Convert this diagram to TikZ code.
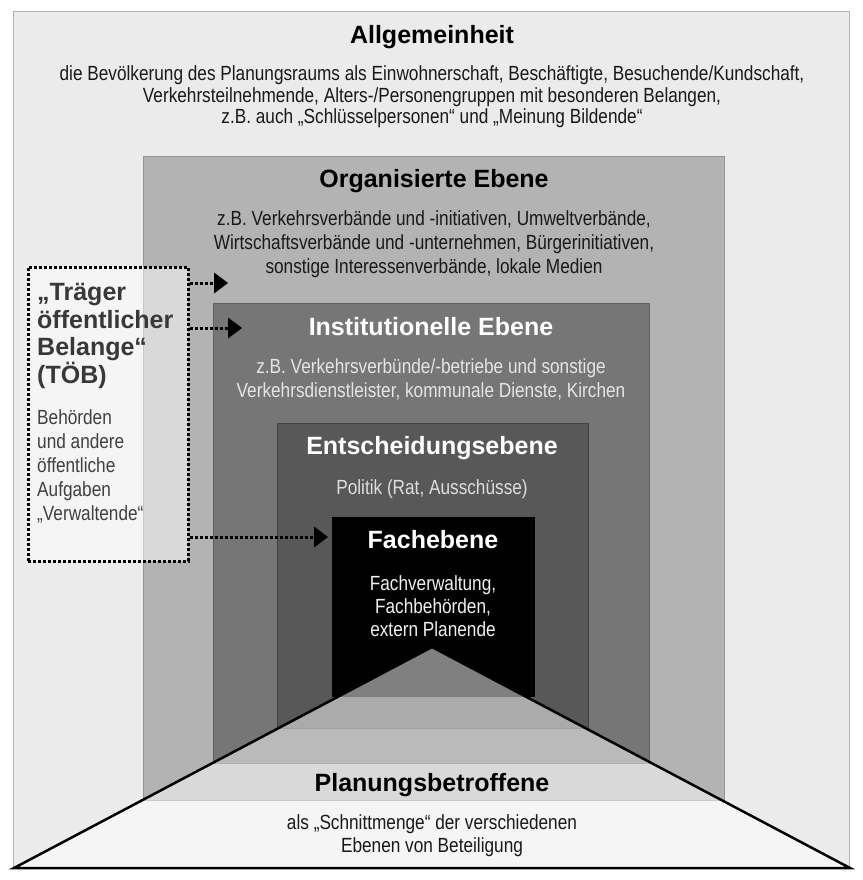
\documentclass[tikz,border=0pt]{standalone}
\usepackage{fontspec}
\setmainfont{Liberation Sans}
\newfontfamily\bodyfont{Liberation Sans}[FakeStretch=0.84]
\usetikzlibrary{positioning, arrows.meta}

\definecolor{allgcol}{HTML}{EBEBEB}
\definecolor{orgcol}{HTML}{B3B3B3}
\definecolor{instcol}{HTML}{767676}
\definecolor{entscol}{HTML}{585858}
\definecolor{toebcol}{HTML}{383838}

\tikzstyle{Head} = [font=\fontsize{25}{27.5}\selectfont\bfseries, inner sep=0pt]
\tikzstyle{Body} = [font=\bodyfont\fontsize{20.5}{24}\selectfont, align=center, inner sep=0pt]
\tikzstyle{TOEBbox} = [draw, line width=3pt, dash pattern=on 3pt off 2pt,
fill=white, fill opacity=0.5, minimum width=160pt, minimum height=294pt]
\tikzstyle{DotArrow} = [line width=3pt, dash pattern=on 3pt off 2pt,
-{Triangle[length=14pt, width=21pt, line width=0pt]}]

\begin{document}
\begin{tikzpicture}[x=1pt, y=-1pt]
    \useasboundingbox (0,0) rectangle (862,880);

    % Ebenen
    \draw[draw=black!30, fill=allgcol] (13,11) rectangle (849,868);
    \draw[draw=black!42, fill=orgcol] (143,156) rectangle (724,800);
    \draw[draw=black!62, fill=instcol] (213,303) rectangle (649,763);
    \draw[draw=black!75, fill=entscol] (277,423) rectangle (588,728);
    \fill[black] (332,517) rectangle (535,697);

    % Schnittmenge
    \draw[line width=2.5pt, fill=white, fill opacity=0.5]
        (432,647) -- (850,868) -- (14,868) -- cycle;

    % TOEB
    \node[TOEBbox] (toeb) at (108,414) {};

    \node[Head] (allg) at (432,37) {Allgemeinheit};
    \node[Body, text=black!90] (allgtxt) at (432,97) [font=\bodyfont\fontsize{20.5}{21.5}\selectfont]
        {die Bevölkerung des Planungsraums als Einwohnerschaft, Beschäftigte, Besuchende/Kundschaft,\\
         Verkehrsteilnehmende, Alters-/Personengruppen mit besonderen Belangen,\\
         z.B. auch „Schlüsselpersonen“ und „Meinung Bildende“};

    \node[Head] (org) at (434,181) {Organisierte Ebene};
    \node[Body, text=black!90] (orgtxt) at (434,244)
        {z.B. Verkehrsverbände und -initiativen, Umweltverbände,\\
         Wirtschaftsverbände und -unternehmen, Bürgerinitiativen,\\
         sonstige Interessenverbände, lokale Medien};

    \node[Head, text=white] (inst) at (431,327) {Institutionelle Ebene};
    \node[Body, text=black!10] (insttxt) at (431,379)
        {z.B. Verkehrsverbünde/-betriebe und sonstige\\
         Verkehrsdienstleister, kommunale Dienste, Kirchen};

    \node[Head, text=white] (ents) at (432,448) {Entscheidungsebene};
    \node[Body, text=black!13] (entstxt) at (432,489) {Politik (Rat, Ausschüsse)};

    \node[Head, text=white] (fach) at (433,540) {Fachebene};
    \node[Body, text=black!6, font=\bodyfont\fontsize{20.5}{23}\selectfont] (fachtxt) at (433,606)
        {Fachverwaltung,\\ Fachbehörden,\\ extern Planende};

    \node[Head] (betr) at (432,785) {Planungsbetroffene};
    \node[Body, text=black!90, font=\bodyfont\fontsize{20.5}{23}\selectfont] (betrtxt) at (432,836)
        {als „Schnittmenge“ der verschiedenen\\ Ebenen von Beteiligung};

    \node[Head, text=toebcol, align=left, anchor=north west] (toebhead) at (37,283)
        {„Träger\\ öffentlicher\\ Belange“\\ (TÖB)};
    \node[Body, text=black!75, align=left, below=21pt of toebhead.south west, anchor=north west] (toebtxt)
        {Behörden\\ und andere\\ öffentliche\\ Aufgaben\\ „Verwaltende“};

    % Pfeile
    \coordinate (p1) at (228,283);
    \coordinate (p2) at (242,328);
    \coordinate (p3) at (328,537);
    \draw[DotArrow] (toeb.east |- p1) -- (p1);
    \draw[DotArrow] (toeb.east |- p2) -- (p2);
    \draw[DotArrow] (toeb.east |- p3) -- (p3);
\end{tikzpicture}
\end{document}
